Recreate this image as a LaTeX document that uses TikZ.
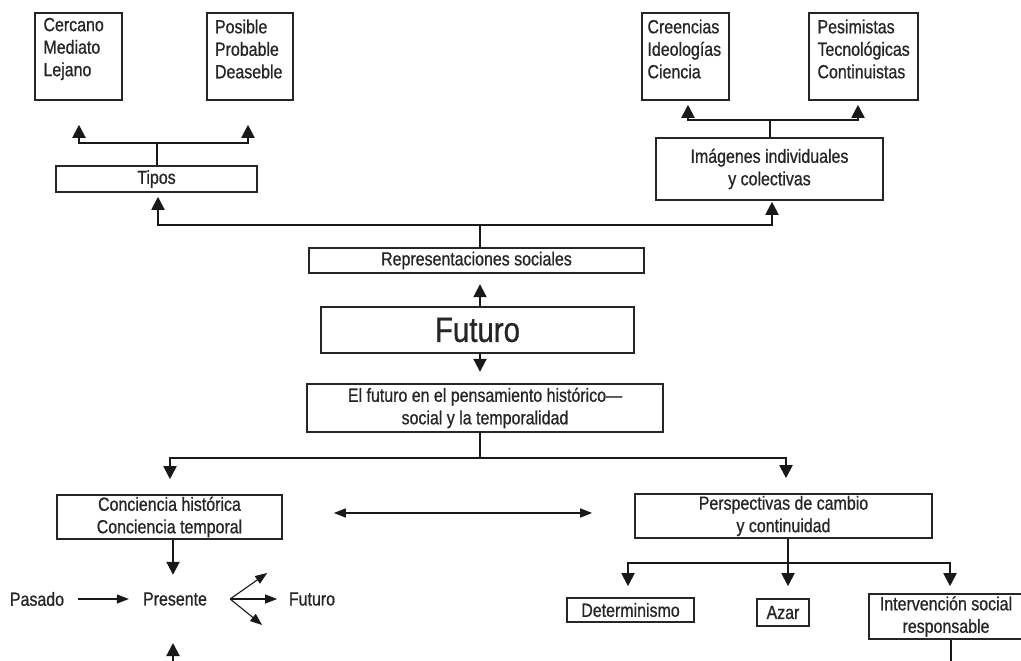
\documentclass[tikz,border=0pt]{standalone}
\usepackage{fontspec}
\setmainfont{Liberation Sans}[FakeStretch=0.84, FakeBold=0.8]
\usetikzlibrary{arrows.meta,calc}
\tikzset{
  box/.style={draw=black!85, line width=1.6pt, inner sep=0pt, align=center,
    font=\fontsize{19}{22.5}\selectfont, text=black!85},
  lbox/.style={box, align=left, text width=#1},
  txt/.style={inner sep=0pt, font=\fontsize{19}{22.5}\selectfont, text=black!85},
  conn/.style={draw=black!90, line width=2pt},
  arr/.style={conn, -{Triangle[length=13pt,width=13pt]}},
  thin arr/.style={draw=black!90, line width=1.1pt, -{Triangle[length=12pt,width=9pt]}},
  dbl arr/.style={draw=black!90, line width=1.4pt, {Triangle[length=12pt,width=9pt]}-{Triangle[length=12pt,width=9pt]}}
}
\begin{document}
\begin{tikzpicture}[x=1pt,y=-1pt]
\clip (0,0) rectangle (1021,661);
\fill[white] (0,0) rectangle (1021,661);

% top boxes
\node[lbox=70pt, minimum width=87pt, minimum height=87pt] (cer) at (78.5,56.5) {Cercano\\Mediato\\Lejano\par\vspace*{15pt}};
\node[lbox=70pt, minimum width=86pt, minimum height=87pt] (pos) at (250,56.5) {Posible\\Probable\\Deaseble\par\vspace*{15pt}};
\node[lbox=76pt, minimum width=87pt, minimum height=87pt] (cre) at (685.5,56.5) {Creencias\\Ideologías\\Ciencia\par\vspace*{15pt}};
\node[lbox=92pt, minimum width=109pt, minimum height=87pt] (pes) at (863.5,56.5) {Pesimistas\\Tecnológicas\\Continuistas\par\vspace*{15pt}};

\node[box, minimum width=201pt, minimum height=26pt] (tip) at (156.5,179) {Tipos};
\node[box, minimum width=227pt, minimum height=62pt] (img) at (769.5,169) {Imágenes individuales\\y colectivas};

\node[box, minimum width=335pt, minimum height=25pt] (rep) at (476.5,260.5) {Representaciones sociales};
\node[box, minimum width=313pt, minimum height=46pt, font=\fontsize{35}{36}\selectfont] (fut) at (477.5,330) {Futuro};
\node[box, minimum width=356pt, minimum height=48pt] (elf) at (485,408) {El futuro en el pensamiento histórico—\\social y la temporalidad};

\node[box, minimum width=225pt, minimum height=44pt] (con) at (169.5,517) {Conciencia histórica\\Conciencia temporal};
\node[box, minimum width=297pt, minimum height=44pt] (per) at (783.5,516) {Perspectivas de cambio\\y continuidad};

\node[box, minimum width=127pt, minimum height=24pt] (det) at (630.5,610) {Determinismo};
\node[box, minimum width=52pt, minimum height=27pt] (aza) at (783,612.5) {Azar};
\node[box, minimum width=154pt, minimum height=45pt] (int) at (946,616.5) {Intervención social\\responsable};

\node[txt] (pas) at (37,599) {Pasado};
\node[txt] (pre) at (175,599) {Presente};
\node[txt] (fu2) at (312,599) {Futuro};

% Tipos branches
\draw[conn] (tip.north) -- ++(0,-22) coordinate (tj);
\draw[arr] (tj) -| ($(cer.south)+(0.5,24)$);
\draw[arr] (tj) -| ($(pos.south)+(-2,24)$);

% Imagenes branches
\draw[conn] (img.north) -- ++(0,-17) coordinate (ij);
\draw[arr] (ij) -| ($(cre.south)+(2.5,4)$);
\draw[arr] (ij) -| ($(pes.south)+(-5.5,4)$);

% Representaciones to Tipos and Imagenes
\draw[conn] ($(rep.north)+(3.5,0)$) -- ++(0,-22) coordinate (rj);
\draw[arr] (rj) -| ($(tip.south)+(1.5,4)$);
\draw[arr] (rj) -| ($(img.south)+(2.5,1)$);

% Futuro
\draw[arr] ($(fut.north)+(2.5,0)$) -- ++(0,-22);
\draw[arr] ($(fut.south)+(2.5,0)$) -- ++(0,18);

% El futuro branches
\draw[conn] ($(elf.south)+(-5,0)$) -- ++(0,25) coordinate (ej);
\draw[arr] (ej) -| ($(con.north)+(0.5,-15)$);
\draw[arr] (ej) -| ($(per.north)+(2.5,-15)$);

% double arrow
\draw[dbl arr] ($(con.east)+(51,-4)$) -- ($(per.west)+(-42,-3)$);

% Conciencia down to Presente
\draw[arr] ($(con.south)+(3.5,0)$) -- ++(0,35);

% Pasado -> Presente -> Futuro
\draw[thin arr, shorten <=14pt, shorten >=14pt] (pas.east) -- (pre.west);
\coordinate (po) at ($(pre.east)+(23,0)$);
\draw[thin arr] (po) -- ++(37,-26);
\draw[thin arr] (po) -- ++(47,0);
\draw[thin arr] (po) -- ++(32,26);

% bottom arrow up to Presente
\coordinate (bot) at (173,663);
\draw[arr] (bot) -- (173,643);

% Perspectivas branches
\draw[conn] ($(per.south)+(4.5,0)$) -- ++(0,24) coordinate (pj);
\draw[arr] (pj) -- ($(aza.north)+(5,-12)$);
\draw[arr] (pj) -| ($(det.north)+(-2.5,-11)$);
\draw[arr] (pj) -| ($(int.north)+(4,-7)$);

% Intervencion down
\coordinate (ibot) at (951,663);
\draw[conn] ($(int.south)+(5,0)$) -- (ibot);
\end{tikzpicture}
\end{document}
